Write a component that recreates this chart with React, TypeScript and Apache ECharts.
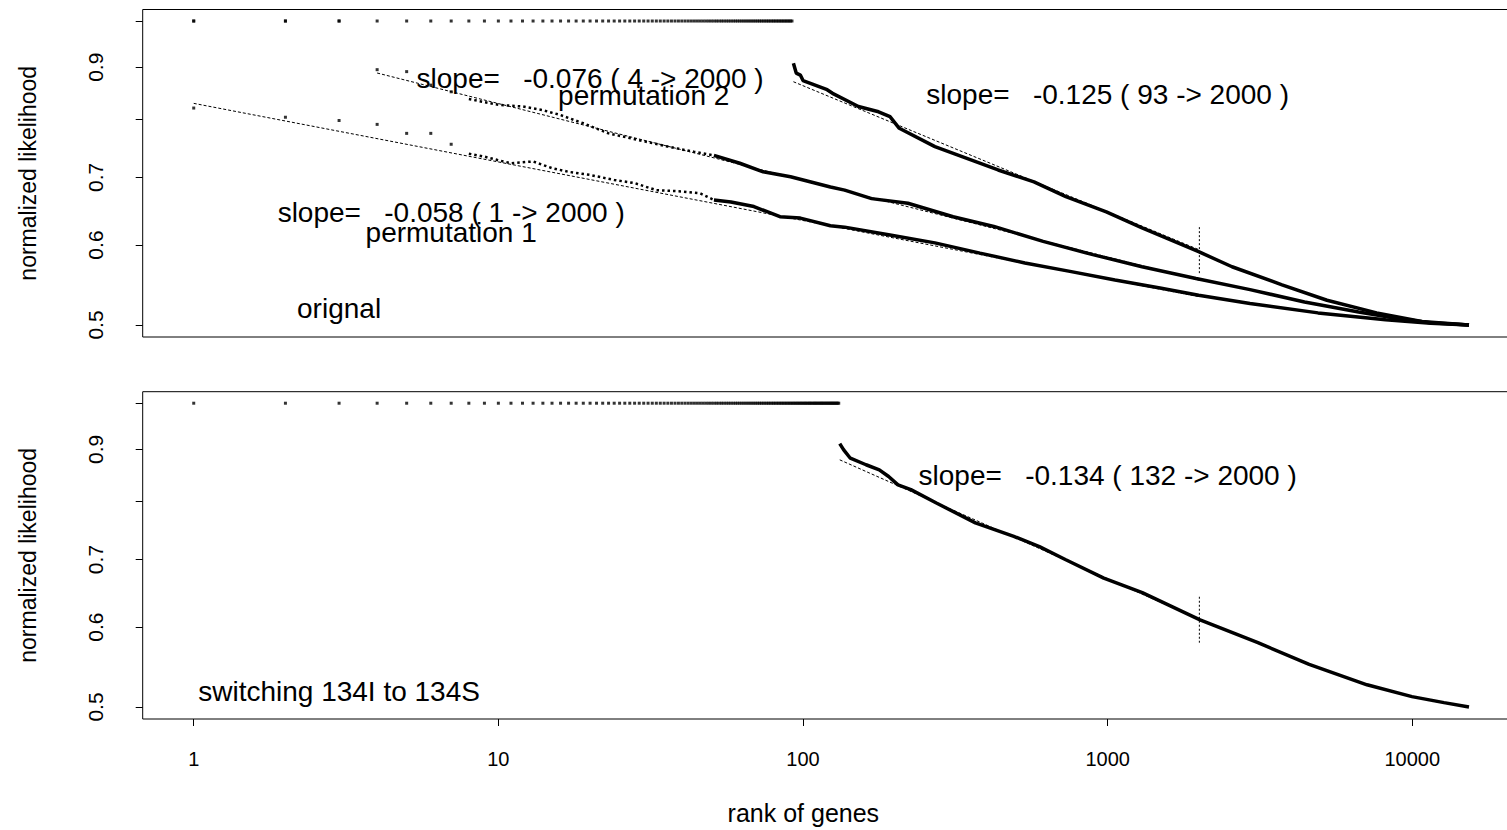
import React, { useEffect, useRef } from "react";
import * as echarts from "echarts";

// ---------- axes ----------
const X_TICKS = [1, 10, 100, 1000, 10000];
const Y_TICKS = [0.5, 0.6, 0.7, 0.8, 0.9, 1.0];
const Y_TICK_LABELS = [0.5, 0.6, 0.7, 0.9];
const X_MIN = 0.68;
const X_MAX = 22570;
const Y_MIN = 0.4865;
const Y_MAX = 1.0266;

// ---------- top panel: original ----------
const ORIG_TOP_RANKS = [
  1, 2, 3, 4, 5, 6, 7, 8, 9, 10, 11, 12, 13, 14, 15, 16, 17, 18, 19, 20,
  21, 22, 23, 24, 25, 26, 27, 28, 29, 30, 31, 32, 33, 34, 35, 36, 37, 38, 39, 40,
  41, 42, 43, 44, 45, 46, 47, 48, 49, 50, 51, 52, 53, 54, 55, 56, 57, 58, 59, 60,
  61, 62, 63, 64, 65, 66, 67, 68, 69, 70, 71, 72, 73, 74, 75, 76, 77, 78, 79, 80,
  81, 82, 83, 84, 85, 86, 87, 88, 89, 90, 91, 92,
];
const TOP_VALUE = 1.0;
const ORIG_RANKS = [93, 95, 98, 100, 120, 125, 152, 177, 193, 207, 271, 345, 437, 573, 729, 990, 1297, 1989, 2560, 3736, 5248, 7636, 10730, 15350];
const ORIG_VALUES = [0.908, 0.888, 0.884, 0.873, 0.855, 0.848, 0.823, 0.813, 0.804, 0.783, 0.751, 0.731, 0.712, 0.693, 0.67, 0.647, 0.624, 0.591, 0.571, 0.548, 0.529, 0.514, 0.504, 0.5];

// ---------- top panel: permutation 2 ----------
const PERM2_TOP_RANKS = [1, 2, 3];
const PERM2_DOT_RANKS = [4, 5, 6, 7];
const PERM2_DOT_VALUES = [0.895, 0.891, 0.864, 0.851];
const PERM2_SPARSE_RANKS = [8, 10, 12, 14, 16, 19, 23, 29, 36, 44, 51];
const PERM2_SPARSE_VALUES = [0.837, 0.826, 0.823, 0.816, 0.807, 0.792, 0.774, 0.762, 0.751, 0.742, 0.736];
const PERM2_RANKS = [51, 62, 74, 91, 123, 137, 168, 221, 311, 423, 614, 894, 1297, 1950, 2933, 4428, 6663, 8748, 11482, 15350];
const PERM2_VALUES = [0.736, 0.723, 0.709, 0.701, 0.685, 0.68, 0.667, 0.66, 0.64, 0.626, 0.605, 0.587, 0.571, 0.556, 0.542, 0.527, 0.515, 0.508, 0.5025, 0.5];

// ---------- top panel: permutation 1 ----------
const PERM1_DOT_RANKS = [1, 2, 3, 4, 5, 6, 7];
const PERM1_DOT_VALUES = [0.82, 0.803, 0.797, 0.79, 0.774, 0.774, 0.755];
const PERM1_SPARSE_RANKS = [8, 9, 10, 11, 13, 15, 17, 20, 24, 28, 33, 40, 46, 51];
const PERM1_SPARSE_VALUES = [0.739, 0.734, 0.728, 0.723, 0.726, 0.715, 0.709, 0.704, 0.696, 0.691, 0.68, 0.678, 0.675, 0.665];
const PERM1_RANKS = [51, 58, 69, 84, 98, 123, 137, 193, 271, 381, 535, 752, 1057, 1485, 1989, 2933, 4903, 8173, 11482, 15350];
const PERM1_VALUES = [0.665, 0.662, 0.655, 0.64, 0.638, 0.627, 0.625, 0.614, 0.603, 0.589, 0.576, 0.565, 0.554, 0.544, 0.535, 0.525, 0.514, 0.506, 0.502, 0.5];

// ---------- top panel: fits (start, end) ----------
const ORIG_FIT_RANKS = [93, 2000];
const ORIG_FIT_VALUES = [0.8707, 0.5934];
const PERM2_FIT_RANKS = [4, 2000];
const PERM2_FIT_VALUES = [0.8882, 0.5538];
const PERM1_FIT_RANKS = [1, 2000];
const PERM1_FIT_VALUES = [0.8288, 0.5333];
const TOP_MARK_RANK = 2000;
const TOP_MARK_VALUES = [0.625, 0.562];

const TOP_NOTES = [
  "slope=   -0.076 ( 4 -> 2000 )",
  "permutation 2",
  "slope=   -0.125 ( 93 -> 2000 )",
  "slope=   -0.058 ( 1 -> 2000 )",
  "permutation 1",
  "orignal",
];
const TOP_NOTE_RANKS = [20, 30, 1000, 7, 7, 3];
const TOP_NOTE_VALUES = [0.878, 0.843, 0.845, 0.646, 0.617, 0.519];

// ---------- bottom panel: switching 134I to 134S ----------
const SW_TOP_RANKS = [
  1, 2, 3, 4, 5, 6, 7, 8, 9, 10, 11, 12, 13, 14, 15, 16, 17, 18, 19, 20,
  21, 22, 23, 24, 25, 26, 27, 28, 29, 30, 31, 32, 33, 34, 35, 36, 37, 38, 39, 40,
  41, 42, 43, 44, 45, 46, 47, 48, 49, 50, 51, 52, 53, 54, 55, 56, 57, 58, 59, 60,
  61, 62, 63, 64, 65, 66, 67, 68, 69, 70, 71, 72, 73, 74, 75, 76, 77, 78, 79, 80,
  81, 82, 83, 84, 85, 86, 87, 88, 89, 90, 91, 92, 93, 94, 95, 96, 97, 98, 99, 100,
  101, 102, 103, 104, 105, 106, 107, 108, 109, 110, 111, 112, 113, 114, 115, 116, 117, 118, 119, 120,
  121, 122, 123, 124, 125, 126, 127, 128, 129, 130, 131,
];
const SW_RANKS = [132, 136, 143, 161, 178, 191, 205, 226, 275, 368, 492, 597, 726, 971, 1299, 2010, 3113, 4586, 7101, 9975, 12706, 15350];
const SW_VALUES = [0.912, 0.899, 0.882, 0.869, 0.859, 0.846, 0.83, 0.821, 0.796, 0.761, 0.738, 0.721, 0.7, 0.671, 0.649, 0.61, 0.579, 0.551, 0.526, 0.512, 0.505, 0.5];
const SW_FIT_RANKS = [132, 2000];
const SW_FIT_VALUES = [0.8788, 0.6105];
const SW_MARK_RANK = 2000;
const SW_MARK_VALUES = [0.643, 0.579];

const BOTTOM_NOTES = ["slope=   -0.134 ( 132 -> 2000 )", "switching 134I to 134S"];
const BOTTOM_NOTE_RANKS = [1000, 3];
const BOTTOM_NOTE_VALUES = [0.847, 0.518];

const FONT = "'Liberation Sans', Arial, Helvetica, sans-serif";

function pairs(xs: number[], ys: number[]) {
  return xs.map((x, i) => [x, ys[i]]);
}

function dots(idx: number, data: number[][]) {
  return {
    type: "scatter",
    xAxisIndex: idx,
    yAxisIndex: idx,
    data,
    symbol: "rect",
    symbolSize: 3,
    itemStyle: { color: "#000" },
    silent: true,
    z: 3,
  };
}

function line(idx: number, data: number[][], width: number, type: any) {
  return {
    type: "line",
    xAxisIndex: idx,
    yAxisIndex: idx,
    data,
    showSymbol: false,
    symbol: "none",
    lineStyle: { color: "#000", width, type },
    silent: true,
    z: 2,
  };
}

function notes(idx: number, texts: string[], ranks: number[], values: number[]) {
  return {
    type: "scatter",
    xAxisIndex: idx,
    yAxisIndex: idx,
    data: texts.map((t, i) => ({ value: [ranks[i], values[i]], name: t })),
    symbol: "circle",
    symbolSize: 1,
    itemStyle: { color: "rgba(0,0,0,0)" },
    silent: true,
    z: 6,
    label: {
      show: true,
      position: "inside",
      formatter: "{b}",
      fontSize: 28,
      color: "#000",
      opacity: 1,
      fontFamily: FONT,
    },
  };
}

function yAxis(gridIndex: number) {
  return {
    type: "log",
    logBase: 10,
    gridIndex,
    min: Y_MIN,
    max: Y_MAX,
    axisLine: { show: false },
    axisTick: {
      show: true,
      inside: false,
      length: 7,
      customValues: Y_TICKS,
      lineStyle: { color: "#000", width: 1 },
    },
    axisLabel: {
      show: true,
      customValues: Y_TICK_LABELS,
      rotate: 90,
      margin: 37,
      fontSize: 21,
      color: "#000",
      fontFamily: FONT,
      formatter: (v: number) => String(Number(Number(v).toFixed(1))),
    },
    splitLine: { show: false },
    name: "normalized likelihood",
    nameLocation: "middle",
    nameGap: 103,
    nameTextStyle: { fontSize: 23, color: "#000", fontFamily: FONT },
  };
}

export default function App() {
  const ref = useRef<HTMLDivElement>(null);
  useEffect(() => {
    if (!ref.current) return;
    const chart = echarts.init(ref.current, null, { renderer: "svg" });
    const gridBase = {
      left: 142.7,
      width: 1377.3,
      show: true,
      borderColor: "#000",
      borderWidth: 1,
      backgroundColor: "transparent",
      containLabel: false,
      outerBoundsMode: "none",
    };
    const option: any = {
      animation: false,
      backgroundColor: "#fff",
      grid: [
        { ...gridBase, top: 9.5, height: 327.5 },
        { ...gridBase, top: 391.7, height: 327.3 },
      ],
      xAxis: [
        {
          type: "log",
          gridIndex: 0,
          min: X_MIN,
          max: X_MAX,
          axisLine: { show: false, onZero: false },
          axisTick: { show: false },
          axisLabel: { show: false },
          splitLine: { show: false },
        },
        {
          type: "log",
          gridIndex: 1,
          min: X_MIN,
          max: X_MAX,
          axisLine: { show: false, onZero: false },
          axisTick: { show: true, length: 7, customValues: X_TICKS, lineStyle: { color: "#000", width: 1 } },
          axisLabel: {
            show: true,
            customValues: X_TICKS,
            margin: 30,
            fontSize: 20,
            color: "#000",
            fontFamily: FONT,
            formatter: (v: number) => String(Math.round(v)),
          },
          splitLine: { show: false },
          name: "rank of genes",
          nameLocation: "middle",
          nameGap: 81,
          nameTextStyle: { fontSize: 25, color: "#000", fontFamily: FONT, padding: [0, 56, 0, 0] },
        },
      ],
      yAxis: [yAxis(0), yAxis(1)],
      series: [
        // top panel
        dots(0, ORIG_TOP_RANKS.map((r) => [r, TOP_VALUE])),
        dots(0, PERM2_TOP_RANKS.map((r) => [r, TOP_VALUE])),
        line(0, pairs(ORIG_RANKS, ORIG_VALUES), 3.5, "solid"),
        dots(0, pairs(PERM2_DOT_RANKS, PERM2_DOT_VALUES)),
        line(0, pairs(PERM2_SPARSE_RANKS, PERM2_SPARSE_VALUES), 2.5, [2.5, 3]),
        line(0, pairs(PERM2_RANKS, PERM2_VALUES), 3.5, "solid"),
        dots(0, pairs(PERM1_DOT_RANKS, PERM1_DOT_VALUES)),
        line(0, pairs(PERM1_SPARSE_RANKS, PERM1_SPARSE_VALUES), 2.5, [2.5, 3]),
        line(0, pairs(PERM1_RANKS, PERM1_VALUES), 3.5, "solid"),
        line(0, pairs(ORIG_FIT_RANKS, ORIG_FIT_VALUES), 1, [3, 2]),
        line(0, pairs(PERM2_FIT_RANKS, PERM2_FIT_VALUES), 1, [3, 2]),
        line(0, pairs(PERM1_FIT_RANKS, PERM1_FIT_VALUES), 1, [3, 2]),
        line(0, TOP_MARK_VALUES.map((v) => [TOP_MARK_RANK, v]), 1, [2, 2]),
        notes(0, TOP_NOTES, TOP_NOTE_RANKS, TOP_NOTE_VALUES),
        // bottom panel
        dots(1, SW_TOP_RANKS.map((r) => [r, TOP_VALUE])),
        line(1, pairs(SW_RANKS, SW_VALUES), 3.5, "solid"),
        line(1, pairs(SW_FIT_RANKS, SW_FIT_VALUES), 1, [3, 2]),
        line(1, SW_MARK_VALUES.map((v) => [SW_MARK_RANK, v]), 1, [2, 2]),
        notes(1, BOTTOM_NOTES, BOTTOM_NOTE_RANKS, BOTTOM_NOTE_VALUES),
      ],
    };
    chart.setOption(option);
    return () => chart.dispose();
  }, []);
  return (
    <div
      ref={ref}
      style={{ position: "absolute", left: 0, top: 0, width: 1507, height: 830, background: "#fff" }}
    />
  );
}
